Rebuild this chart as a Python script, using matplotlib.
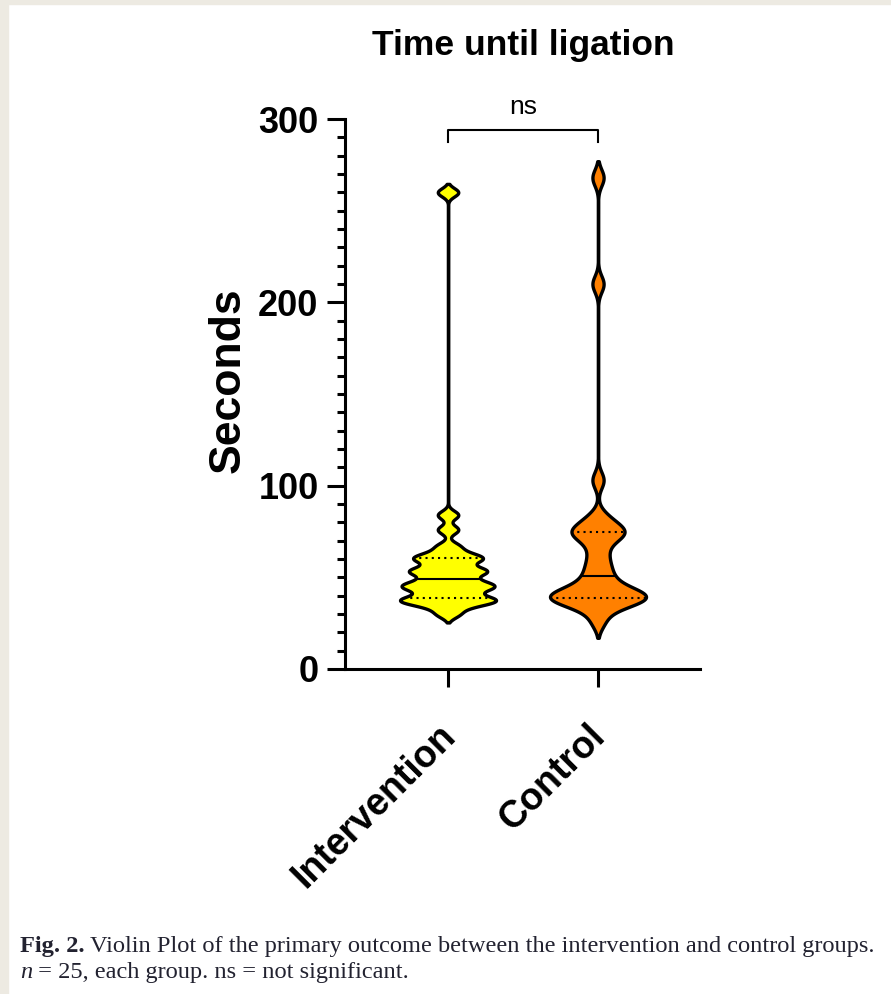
import numpy as np
import matplotlib.pyplot as plt
from matplotlib import mlab
from matplotlib.patches import Rectangle
from matplotlib.ticker import MultipleLocator
import matplotlib.transforms as mtransforms

groups = ["Intervention", "Control"]
intervention = [30, 34, 36, 37, 38, 38, 40, 43, 44, 45, 46, 47, 49,
                52, 53, 54, 55, 59, 60, 61, 63, 67, 76, 84, 260]
control = [26, 33, 36, 37, 38, 39, 39, 40, 41, 42, 44, 47, 51,
           55, 60, 66, 72, 74, 74, 76, 79, 83, 103, 210, 268]
colors = ["#FFFF00", "#FF8000"]
bandwidths = [2.3, 4.5]

plt.rcParams['font.family'] = ['Liberation Sans', 'DejaVu Sans']


def violin_stat(data, bw):
    x = np.asarray(data, dtype=float)
    kde = mlab.GaussianKDE(x, bw_method=lambda k: bw / np.std(x, ddof=1))
    coords = np.linspace(x.min() - 2 * bw, x.max() + 2 * bw, 1200)
    return dict(coords=coords, vals=kde.evaluate(coords), mean=x.mean(),
                median=np.median(x), min=x.min(), max=x.max(),
                quantiles=np.array([]))


fig = plt.figure(figsize=(8.91, 9.94), dpi=100)
fig.patch.set_facecolor('white')
# page border strips
fig.patches.append(Rectangle((0, 0), 8 / 891, 1, transform=fig.transFigure,
                             color='#EDEAE2', zorder=0))
fig.patches.append(Rectangle((0, 1 - 4 / 994), 1, 4 / 994, transform=fig.transFigure,
                             color='#EDEAE2', zorder=0))

ax = fig.add_axes([345 / 891, 1 - 669 / 994, 355 / 891, 550 / 994])
positions = [1, 2]
half_w = 0.32

for data, pos, col, bw in zip([intervention, control], positions, colors, bandwidths):
    st = violin_stat(data, bw)
    parts = ax.violin([st], positions=[pos], widths=2 * half_w,
                      showmeans=False, showextrema=False, showmedians=False)
    for b in parts['bodies']:
        b.set_facecolor(col)
        b.set_edgecolor('black')
        b.set_linewidth(2.4)
        b.set_alpha(1)
        b.set_zorder(2)
    coords, vals = st['coords'], st['vals']
    q1, med, q3 = np.percentile(data, [25, 50, 75], method='weibull')
    for q, ls in [(q1, (0, (1, 2))), (med, '-'), (q3, (0, (1, 2)))]:
        w = np.interp(q, coords, vals) / vals.max() * half_w
        ax.hlines(q, pos - w, pos + w, colors='black', linestyles=ls,
                  linewidth=1.5, zorder=3)

ax.set_xlim(0.313, 2.68)
ax.set_ylim(0, 300)
ax.set_xticks(positions)
ax.set_xticklabels(groups, rotation=45, ha='right', va='top',
                   rotation_mode='anchor', fontsize=27, fontweight='bold')
ax.yaxis.set_major_locator(MultipleLocator(100))
ax.yaxis.set_minor_locator(MultipleLocator(10))
ax.tick_params(axis='y', which='major', length=13, width=2.2, labelsize=26, pad=6)
ax.tick_params(axis='y', which='minor', length=6, width=2.2)
ax.tick_params(axis='x', which='major', length=13, width=2.2, pad=22)
for lbl in ax.get_yticklabels():
    lbl.set_fontweight('bold')
offset = mtransforms.ScaledTranslation(-11 / 100, 0, fig.dpi_scale_trans)
for lbl in ax.get_xticklabels():
    lbl.set_transform(lbl.get_transform() + offset)

for s in ['top', 'right']:
    ax.spines[s].set_visible(False)
for s in ['left', 'bottom']:
    ax.spines[s].set_linewidth(2.2)

# significance bracket
ax.plot([1, 1, 2, 2], [287.5, 294, 294, 287.5], color='black', lw=1.5, clip_on=False)
ax.text(1.5, 303, 'ns', ha='center', va='baseline', fontsize=19, clip_on=False)

fig.text(523 / 891, 1 - 55 / 994, 'Time until ligation', ha='center', va='baseline',
         fontsize=25.5, fontweight='bold')
fig.text(228 / 891, 1 - 380 / 994, 'Seconds', ha='center', va='center',
         rotation=90, fontsize=32, fontweight='bold')

# caption
fig.canvas.draw()
r = fig.canvas.get_renderer()
cap_fs = 17.6
cap_col = '#222230'
t1 = fig.text(20 / 891, 1 - 952 / 994, 'Fig. 2.', fontsize=cap_fs, fontweight='bold',
              family='Liberation Serif', va='baseline', color=cap_col)
bb = t1.get_window_extent(r)
fig.text((bb.x1 + 5) / 891, 1 - 952 / 994,
         'Violin Plot of the primary outcome between the intervention and control groups.',
         fontsize=cap_fs, family='Liberation Serif', va='baseline', color=cap_col)
t3 = fig.text(20 / 891, 1 - 978 / 994, 'n', fontsize=cap_fs, style='italic',
              family='Liberation Serif', va='baseline', color=cap_col)
bb = t3.get_window_extent(r)
fig.text(bb.x1 / 891, 1 - 978 / 994, ' = 25, each group. ns = not significant.',
         fontsize=cap_fs, family='Liberation Serif', va='baseline', color=cap_col)

fig.savefig('out.png', dpi=100)
